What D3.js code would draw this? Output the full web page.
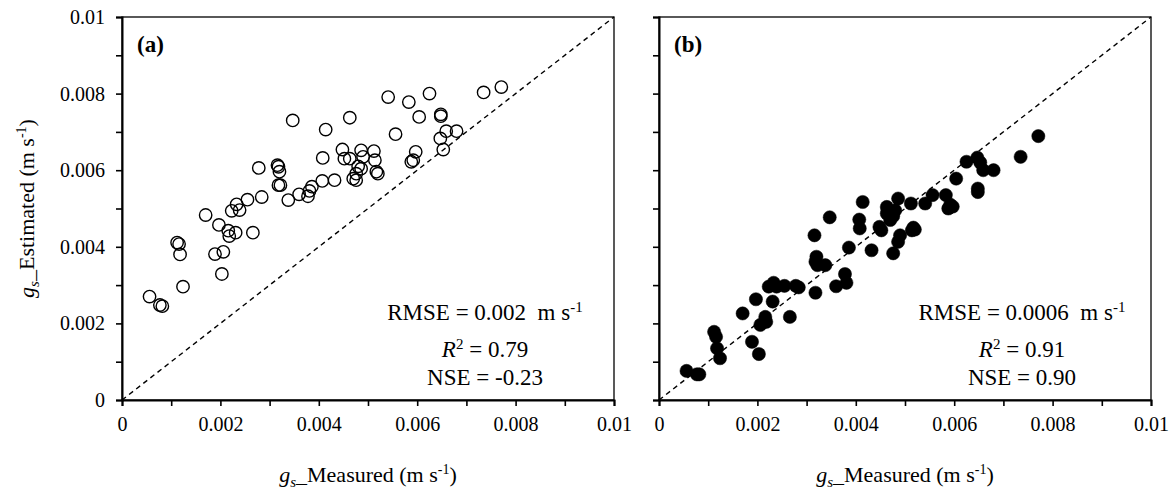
<!DOCTYPE html>
<html><head><meta charset="utf-8">
<script src="https://cdn.jsdelivr.net/npm/d3@7"></script>
<style>
html,body{margin:0;padding:0;background:#fff;}
text{font-family:"Liberation Serif","Times New Roman",serif;fill:#000;}
</style></head>
<body><svg id="chart" width="1175" height="500"></svg>
<script>
// measured stomatal conductance (shared x)
const measured = [0.00056,0.00077,0.00082,0.00112,0.00116,0.00118,0.00124,0.00170,0.00189,0.00197,
0.00203,0.00206,0.00216,0.00218,0.00223,0.00231,0.00233,0.00239,0.00255,0.00266,
0.00278,0.00284,0.00316,0.00318,0.00320,0.00318,0.00322,0.00338,0.00347,0.00360,
0.00378,0.00381,0.00386,0.00407,0.00408,0.00414,0.00432,0.00448,0.00452,0.00463,
0.00463,0.00470,0.00476,0.00476,0.00480,0.00486,0.00486,0.00490,0.00512,0.00514,
0.00517,0.00520,0.00541,0.00556,0.00583,0.00588,0.00592,0.00597,0.00604,0.00625,
0.00647,0.00648,0.00648,0.00653,0.00659,0.00680,0.00735,0.00771];
// panel (a) estimated
const estimatedA = [0.00270,0.00248,0.00245,0.00411,0.00407,0.00380,0.00296,0.00483,0.00381,0.00457,
0.00329,0.00387,0.00442,0.00428,0.00494,0.00437,0.00511,0.00496,0.00523,0.00437,
0.00606,0.00530,0.00613,0.00609,0.00596,0.00561,0.00561,0.00522,0.00730,0.00537,
0.00532,0.00546,0.00557,0.00572,0.00632,0.00706,0.00574,0.00654,0.00630,0.00737,
0.00630,0.00578,0.00574,0.00591,0.00610,0.00652,0.00604,0.00635,0.00650,0.00626,
0.00596,0.00591,0.00791,0.00694,0.00778,0.00622,0.00626,0.00648,0.00739,0.00800,
0.00683,0.00746,0.00741,0.00654,0.00702,0.00702,0.00803,0.00817];
// panel (b) estimated
const estimatedB = [0.00076,0.00067,0.00067,0.00178,0.00165,0.00135,0.00109,0.00226,0.00152,0.00263,
0.00120,0.00196,0.00217,0.00204,0.00296,0.00257,0.00306,0.00296,0.00298,0.00217,
0.00298,0.00294,0.00430,0.00361,0.00374,0.00280,0.00352,0.00352,0.00477,0.00297,
0.00329,0.00306,0.00398,0.00471,0.00448,0.00517,0.00391,0.00452,0.00443,0.00504,
0.00487,0.00470,0.00383,0.00480,0.00495,0.00526,0.00413,0.00430,0.00513,0.00443,
0.00450,0.00445,0.00513,0.00535,0.00535,0.00500,0.00510,0.00505,0.00578,0.00622,
0.00633,0.00543,0.00552,0.00620,0.00600,0.00600,0.00635,0.00689];

const majorTicks = [0,0.002,0.004,0.006,0.008,0.01];
const minorTicks = [0.001,0.003,0.005,0.007,0.009];
const tickLabels = ["0","0.002","0.004","0.006","0.008","0.01"];
const panelLabels = ["(a)","(b)"];
const statsA = ["0.002","0.79","-0.23"];
const statsB = ["0.0006","0.91","0.90"];

const FONT = "'Liberation Serif','Times New Roman',serif";
const svg = d3.select("#chart");
const domain = [0,0.01];
const yTop = 17, yBot = 400;
const panels = [
  {x0:122, x1:614, est:estimatedA, filled:false, label:panelLabels[0], stats:statsA, yLabels:true},
  {x0:659, x1:1151, est:estimatedB, filled:true, label:panelLabels[1], stats:statsB, yLabels:false}
];
const allTicks = majorTicks.concat(minorTicks);
const fmt = d => tickLabels[majorTicks.indexOf(d)] || "";

panels.forEach(p => {
  const x = d3.scaleLinear().domain(domain).range([p.x0,p.x1]);
  const y = d3.scaleLinear().domain(domain).range([yBot,yTop]);
  const g = svg.append("g");

  // frame
  g.append("rect").attr("x",p.x0).attr("y",yTop).attr("width",p.x1-p.x0).attr("height",yBot-yTop)
    .attr("fill","none").attr("stroke","#000").attr("stroke-width",1.3);

  // axes
  const xa = g.append("g").attr("transform",`translate(0,${yBot})`)
    .call(d3.axisBottom(x).tickValues(allTicks).tickSize(6).tickFormat(fmt).tickPadding(6));
  const ya = g.append("g").attr("transform",`translate(${p.x0},0)`)
    .call(d3.axisLeft(y).tickValues(allTicks).tickSize(6).tickFormat(p.yLabels?fmt:()=>"").tickPadding(11));
  [xa,ya].forEach(a=>{
    a.attr("font-family",FONT).attr("font-size",20);
    a.select(".domain").attr("stroke","#000").attr("stroke-width",2);
    a.selectAll(".tick line").attr("stroke","#000").attr("stroke-width",1.6);
    a.selectAll(".tick text").attr("font-family",FONT).style("font-family",FONT).style("font-size","20px").attr("fill","#000");
  });
  xa.selectAll(".tick text").attr("dy","0.95em");

  // 1:1 line
  g.append("line").attr("x1",x(0)).attr("y1",y(0)).attr("x2",x(0.01)).attr("y2",y(0.01))
    .attr("stroke","#000").attr("stroke-width",1.4).attr("stroke-dasharray","5,4");

  // points
  g.selectAll("circle.pt").data(measured.map((m,i)=>[m,p.est[i]])).enter().append("circle")
    .attr("class","pt").attr("cx",d=>x(d[0])).attr("cy",d=>y(d[1]))
    .attr("r",p.filled?6.6:6.2)
    .attr("fill",p.filled?"#000":"none").attr("stroke","#000").attr("stroke-width",p.filled?0.5:1.4);

  // panel label
  g.append("text").attr("x",p.x0+15).attr("y",52).style("font-size","23px").style("font-weight","bold").text(p.label);

  // stats
  const cx = p.x0+363;
  const t1 = g.append("text").attr("x",cx).attr("y",320).attr("text-anchor","middle").style("font-size","23px").style("white-space","pre");
  t1.append("tspan").text(`RMSE = ${p.stats[0]}  m s`);
  t1.append("tspan").attr("dy",-8).style("font-size","15px").text("-1");
  const t2 = g.append("text").attr("x",cx).attr("y",357).attr("text-anchor","middle").style("font-size","23px");
  t2.append("tspan").style("font-style","italic").text("R");
  t2.append("tspan").attr("dy",-8).style("font-size","15px").text("2");
  t2.append("tspan").attr("dy",8).text(` = ${p.stats[1]}`);
  g.append("text").attr("x",cx).attr("y",385).attr("text-anchor","middle").style("font-size","23px").text(`NSE = ${p.stats[2]}`);

  // x title
  const xt = g.append("text").attr("x",(p.x0+p.x1)/2).attr("y",482).attr("text-anchor","middle").style("font-size","22px");
  xt.append("tspan").style("font-style","italic").text("g");
  xt.append("tspan").attr("dy",5).style("font-style","italic").style("font-size","15px").text("s");
  xt.append("tspan").attr("dy",-5).text("_Measured (m s");
  xt.append("tspan").attr("dy",-8).style("font-size","14px").text("-1");
  xt.append("tspan").attr("dy",8).text(")");
});

// y title
const yt = svg.append("text").attr("transform",`translate(34,${(yTop+yBot)/2}) rotate(-90)`)
  .attr("text-anchor","middle").style("font-size","22px");
yt.append("tspan").style("font-style","italic").text("g");
yt.append("tspan").attr("dy",5).style("font-style","italic").style("font-size","15px").text("s");
yt.append("tspan").attr("dy",-5).text("_Estimated (m s");
yt.append("tspan").attr("dy",-8).style("font-size","14px").text("-1");
yt.append("tspan").attr("dy",8).text(")");
</script></body></html>
